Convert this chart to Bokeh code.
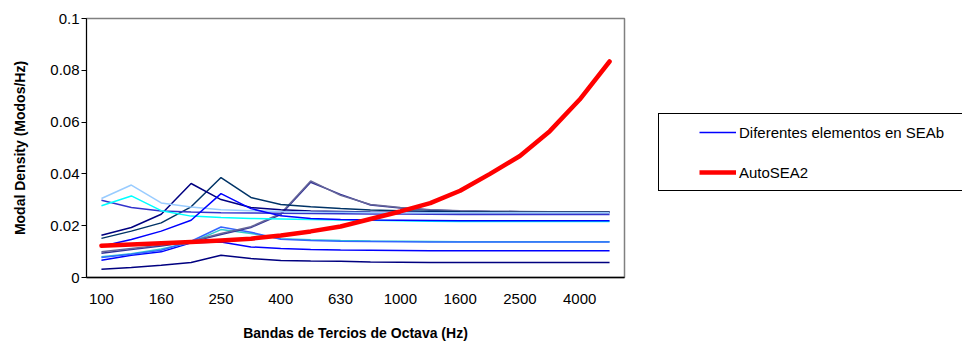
from bokeh.plotting import figure
from bokeh.layouts import row
from bokeh.models import (Range1d, FixedTicker, CustomJSTickFormatter, Legend, LegendItem)
from bokeh.embed import file_html
from bokeh.resources import INLINE

bands = ["100", "125", "160", "200", "250", "315", "400", "500", "630", "800",
         "1000", "1250", "1600", "2000", "2500", "3150", "4000", "5000"]
y_ticks = [0, 0.02, 0.04, 0.06, 0.08, 0.1]

autosea2 = [0.0123, 0.0127, 0.0132, 0.0137, 0.0143, 0.0150, 0.0162, 0.0178, 0.0197,
            0.0226, 0.0255, 0.0287, 0.0335, 0.0400, 0.0469, 0.0565, 0.0687, 0.0834]

seab_a = [0.0305, 0.0357, 0.0288, 0.0272, 0.0262, 0.0258, 0.0255, 0.0253, 0.0252,
          0.0251, 0.0250, 0.0250, 0.0250, 0.0250, 0.0250, 0.0250, 0.0250, 0.0250]
seab_b = [0.0277, 0.0315, 0.0258, 0.0237, 0.0232, 0.0228, 0.0226, 0.0224, 0.0222,
          0.0221, 0.0219, 0.0217, 0.0216, 0.0216, 0.0216, 0.0216, 0.0216, 0.0216]
seab_c = [0.0298, 0.0270, 0.0257, 0.0253, 0.0250, 0.0249, 0.0248, 0.0247, 0.0246,
          0.0245, 0.0245, 0.0244, 0.0243, 0.0243, 0.0243, 0.0243, 0.0243, 0.0243]
seab_d = [0.0163, 0.0193, 0.0244, 0.0363, 0.0301, 0.0270, 0.0262, 0.0257, 0.0255,
          0.0253, 0.0252, 0.0251, 0.0250, 0.0250, 0.0250, 0.0250, 0.0250, 0.0250]
seab_e = [0.0151, 0.0179, 0.0211, 0.0273, 0.0386, 0.0309, 0.0282, 0.0273, 0.0266,
          0.0261, 0.0258, 0.0256, 0.0254, 0.0253, 0.0252, 0.0252, 0.0252, 0.0252]
seab_f = [0.0121, 0.0147, 0.0179, 0.0221, 0.0324, 0.0266, 0.0238, 0.0228, 0.0224,
          0.0222, 0.0221, 0.0220, 0.0219, 0.0219, 0.0219, 0.0219, 0.0219, 0.0219]
seab_g = [0.0099, 0.0112, 0.0125, 0.0140, 0.0170, 0.0196, 0.0247, 0.0373, 0.0317,
          0.0282, 0.0270, 0.0262, 0.0258, 0.0256, 0.0255, 0.0254, 0.0254, 0.0254]
seab_g2 = [0.0094, 0.0108, 0.0122, 0.0138, 0.0166, 0.0193, 0.0243, 0.0368, 0.0321,
           0.0280, 0.0268, 0.0261, 0.0257, 0.0255, 0.0254, 0.0253, 0.0253, 0.0253]
seab_h = [0.0077, 0.0090, 0.0105, 0.0140, 0.0195, 0.0175, 0.0148, 0.0143, 0.0140,
          0.0139, 0.0138, 0.0137, 0.0137, 0.0137, 0.0137, 0.0137, 0.0137, 0.0137]
seab_k = [0.0080, 0.0092, 0.0110, 0.0135, 0.0185, 0.0170, 0.0150, 0.0146, 0.0143,
          0.0141, 0.0140, 0.0139, 0.0138, 0.0138, 0.0138, 0.0138, 0.0138, 0.0138]
seab_i = [0.0067, 0.0086, 0.0099, 0.0134, 0.0137, 0.0118, 0.0112, 0.0108, 0.0106,
          0.0105, 0.0104, 0.0103, 0.0103, 0.0103, 0.0103, 0.0103, 0.0103, 0.0103]
seab_j = [0.0032, 0.0039, 0.0047, 0.0058, 0.0086, 0.0073, 0.0066, 0.0064, 0.0063,
          0.0060, 0.0059, 0.0058, 0.0058, 0.0058, 0.0058, 0.0058, 0.0058, 0.0058]

seab_series = [
    (seab_j, "#000080"), (seab_i, "#0000FF"), (seab_k, "#33CCCC"), (seab_h, "#3366FF"),
    (seab_g2, "#333399"), (seab_g, "#666699"), (seab_e, "#003366"), (seab_d, "#000080"),
    (seab_c, "#3333CC"), (seab_b, "#00FFFF"), (seab_a, "#99CCFF"), (seab_f, "#0000FF"),
]
seab_label = "Diferentes elementos en SEAb"
autosea_label = "AutoSEA2"

xs = list(range(len(bands)))
FONT = "Liberation Sans"
MAIN_W = 626
TOTAL_W = 962
H = 343

p = figure(width=MAIN_W, height=H, output_backend="svg", toolbar_location=None,
           x_range=Range1d(-0.5, len(bands) - 0.5), y_range=Range1d(0, 0.1),
           min_border_left=86, min_border_right=2, min_border_top=18, min_border_bottom=H - 277)
p.background_fill_color = "white"
p.border_fill_color = "white"
p.outline_line_color = "#808080"
p.outline_line_width = 1.5
p.xgrid.visible = False
p.ygrid.visible = False

for vals, col in seab_series:
    p.line(xs, vals, line_color=col, line_width=1.5)
p.line(xs, autosea2, line_color="#FF0000", line_width=4.5, line_join="round", line_cap="round")

# x axis
xa = p.xaxis[0]
xa.ticker = FixedTicker(ticks=xs[::2])
xa.major_label_overrides = {i: bands[i] for i in xs[::2]}
xa.major_tick_line_color = None
xa.minor_tick_line_color = None
xa.major_tick_out = 0
xa.major_label_standoff = 16
xa.major_label_text_font = FONT
xa.major_label_text_font_size = "15px"
xa.major_label_text_color = "black"
xa.axis_line_color = "black"
xa.axis_line_width = 1.5
xa.axis_label = "Bandas de Tercios de Octava (Hz)"
xa.axis_label_text_font = FONT
xa.axis_label_text_font_size = "14px"
xa.axis_label_text_font_style = "bold"
xa.axis_label_text_color = "black"
xa.axis_label_standoff = 18

# y axis
ya = p.yaxis[0]
ya.ticker = FixedTicker(ticks=y_ticks)
ya.formatter = CustomJSTickFormatter(code="return tick == 0 ? '0' : parseFloat(tick.toFixed(3)).toString();")
ya.minor_tick_line_color = None
ya.major_tick_out = 5
ya.major_tick_in = 0
ya.major_tick_line_color = "black"
ya.major_label_standoff = 2
ya.major_label_text_font = FONT
ya.major_label_text_font_size = "15px"
ya.major_label_text_color = "black"
ya.axis_line_color = "black"
ya.axis_label = "Modal Density (Modos/Hz)"
ya.axis_label_text_font = FONT
ya.axis_label_text_font_size = "14px"
ya.axis_label_text_font_style = "bold"
ya.axis_label_text_color = "black"
ya.axis_label_standoff = 19

# legend panel (proxy renderers kept outside the visible range)
p2 = figure(width=TOTAL_W - MAIN_W, height=H, output_backend="svg", toolbar_location=None,
            x_range=Range1d(-100, -99), y_range=Range1d(-100, -99),
            x_axis_type=None, y_axis_type=None,
            min_border_left=0, min_border_right=0, min_border_top=0, min_border_bottom=0)
p2.outline_line_color = None
p2.background_fill_color = "white"
p2.border_fill_color = "white"
p2.xgrid.visible = False
p2.ygrid.visible = False
lg_blue = p2.line(xs, seab_f, line_color="#0000FF", line_width=1.5)
lg_red = p2.line(xs, autosea2, line_color="#FF0000", line_width=4.5)

legend = Legend(items=[LegendItem(label=seab_label, renderers=[lg_blue]),
                       LegendItem(label=autosea_label, renderers=[lg_red])],
                location=(32, 86), orientation="vertical",
                title=" ", title_location="left", title_text_font_size="2px",
                title_standoff=30,
                glyph_width=37, glyph_height=20, label_height=20, label_standoff=3,
                label_width=245,
                spacing=20, padding=8, margin=0,
                border_line_color="black", border_line_width=1, border_line_alpha=1.0,
                background_fill_color="white", background_fill_alpha=1.0,
                label_text_font=FONT, label_text_font_size="15px", label_text_color="black")
p2.add_layout(legend)

layout = row(p, p2, spacing=0)
open("out.html", "w").write(file_html(layout, INLINE))
